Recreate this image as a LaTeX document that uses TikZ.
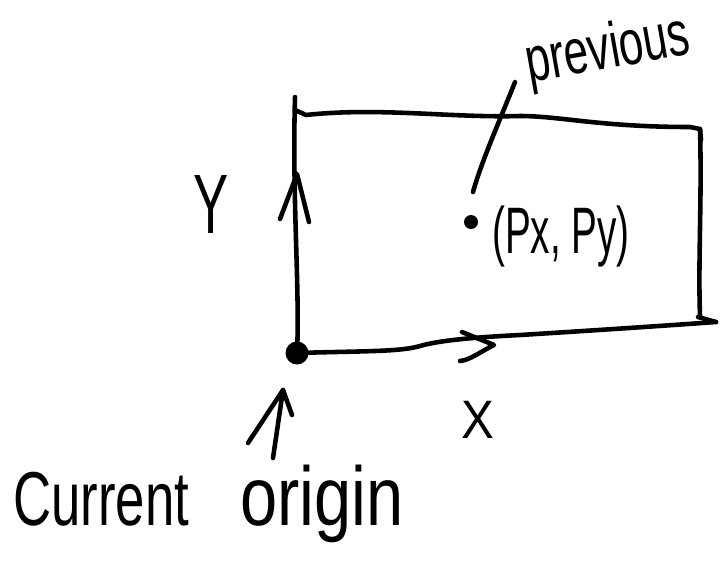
\documentclass[tikz,border=0pt]{standalone}
\usepackage{fontspec}
\setmainfont{Liberation Sans}
\newcommand\tallbox[2][1.45]{\scalebox{1}[#1]{#2}}
\tikzset{
  pen/.style={line width=2.6pt, line cap=round, line join=round},
  hand/.style={inner sep=0pt, font=\fontsize{30}{36}\selectfont},
}

\begin{document}
\begin{tikzpicture}[x=0.02cm, y=-0.02cm]
  \useasboundingbox (0,0) rectangle (720,566);
  % corners of the box
  \coordinate (o)  at (297,353);
  \coordinate (tl) at (295,97);
  \coordinate (tr) at (700,129);
  \coordinate (br) at (700,316);
  \coordinate (xe) at (716,322);
  % the box, drawn by hand
  \draw[pen] (tl) .. controls (292,200) and (300,290) .. (o);
  \draw[pen] (295,110) -- (306,115) .. controls (380,107) and (450,118) .. (520,116)
             .. controls (560,116) and (600,127) .. (690,127) -- (tr) -- (701,140);
  \draw[pen] (tr) .. controls (702,200) and (698,260) .. (br);
  \draw[pen] (o) .. controls (360,351) and (400,352) .. (420,346)
             .. controls (440,340) and (480,337) .. (520,335)
             .. controls (600,330) and (660,326) .. (xe);
  \draw[pen] (698,317) -- (xe);
  % arrow marks on the axes
  \draw[pen] (280,219) -- (297,174) -- (309,222);
  \draw[pen] (462,332) -- (494,345) .. controls (480,352) and (470,360) .. (460,361);
  % origin and the previous point
  \fill (o) circle (0.23cm);
  \coordinate (p) at (471,222);
  \fill (p) circle (0.14cm);
  \coordinate (lead) at (473,192);
  \coordinate (leadtop) at (515,82);
  \draw[pen] (lead) .. controls (482,160) and (500,120) .. (leadtop);
  % labels
  \node[hand] (ylab) at (211,204) {\tallbox[1.6]{Y}};
  \node[hand, font=\fontsize{25}{30}\selectfont, rotate=10] (prev) at (608,52) {\tallbox{previous}};
  \node[hand, font=\fontsize{22}{26}\selectfont] (pxy) at (561,237) {\tallbox[1.7]{(Px, Py)}};
  \node[hand, font=\fontsize{28}{32}\selectfont] (xlab) at (478,420) {\tallbox[1.1]{X}};
  \node[hand, anchor=base west] (cur) at (13,525) {\tallbox{Current}};
  \node[hand, anchor=base west, font=\fontsize{38}{44}\selectfont] (orig) at (240,525) {\tallbox[1.25]{origin}};
  % arrow pointing at the origin
  \coordinate (otail) at (273,458);
  \coordinate (otip) at (283,390);
  \draw[pen] (otail) -- (otip);
  \draw[pen] (248,443) -- (otip) -- (292,415);
\end{tikzpicture}
\end{document}
